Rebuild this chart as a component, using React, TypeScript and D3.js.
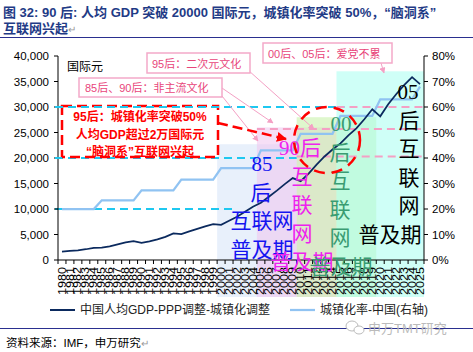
import * as d3 from "d3";

const years = [
  1980, 1981, 1982, 1983, 1984, 1985, 1986, 1987, 1988, 1989,
  1990, 1991, 1992, 1993, 1994, 1995, 1996, 1997, 1998, 1999,
  2000, 2001, 2002, 2003, 2004, 2005, 2006, 2007, 2008, 2009,
  2010, 2011, 2012, 2013, 2014, 2015, 2016, 2017, 2018, 2019,
  2020, 2021, 2022, 2023, 2024, 2025,
];
// 中国人均GDP-PPP调整-城镇化调整 (left axis)
const gdp = [
  1640, 1770, 1910, 2110, 2360, 2420, 2660, 3050, 3450, 3680,
  3350, 3640, 4040, 4530, 5220, 5080, 5600, 6100, 6600, 7050,
  6900, 7680, 8470, 9460, 10440, 11230, 12410, 13600, 14870, 16060,
  15460, 16940, 18700, 20300, 21670, 22850, 24430, 25800, 27600, 29550,
  28170, 30540, 32500, 34280, 35850, 34500,
];
// 城镇化率-中国 (right axis)
const urban = [
  0.2, 0.2, 0.2, 0.2, 0.2, 0.234, 0.234, 0.234, 0.234, 0.234,
  0.273, 0.273, 0.273, 0.273, 0.273, 0.315, 0.315, 0.315, 0.315, 0.315,
  0.36, 0.36, 0.36, 0.36, 0.36, 0.43, 0.43, 0.43, 0.43, 0.43,
  0.495, 0.495, 0.495, 0.495, 0.495, 0.565, 0.565, 0.565, 0.565, 0.565,
  0.63, 0.63, 0.63, 0.63, 0.63, 0.68,
];
const leftTicks = [0, 5000, 10000, 15000, 20000, 25000, 30000, 35000, 40000];
const rightTicks = [0, 0.1, 0.2, 0.3, 0.4, 0.5, 0.6, 0.7, 0.8];

// generation bands
const bandStart = [2000, 2005, 2010, 2015];
const bandEnd = [2009, 2014, 2019, 2025];
const bandTop = [22700, 26000, 28000, 37000];
const bandFill = ["#d6e4f7", "#eec4ee", "#c4f0a4", "#a8fff0"];

// threshold dashed lines
const cyanLevel = [10000, 20000, 30000];
const cyanEndYear = [2001, 2009, 2015];
const pinkLevel = [20300, 25700, 30000];
const pinkStartYear = [2010, 2005, 2015];

const groups = [
  { lines: ["85", "后", "互联网", "普及期"], xs: [262, 261, 262, 262], y0: 164, color: "#1414f0" },
  { lines: ["90后", "互", "联", "网", "普及期"], xs: [300, 302, 302, 302, 302], y0: 148, color: "#ee22ee" },
  { lines: ["00", "后", "互", "联", "网", "普及期"], xs: [341, 340, 340, 340, 340, 341], y0: 124, color: "#3a9c72" },
  { lines: ["05", "后", "互", "联", "网", "普及期"], xs: [408, 409, 409, 409, 409, 390], y0: 92, color: "#000000" },
];

export default function App() {
  const W = 473;
  const H = 352;
  const x = d3.scaleBand<number>().domain(years).range([58, 424]);
  const bw = x.bandwidth();
  const cx = (yr: number) => (x(yr) ?? 0) + bw / 2;
  const yL = d3.scaleLinear().domain([0, 40000]).range([260, 56]);
  const yR = d3.scaleLinear().domain([0, 0.8]).range([260, 56]);

  const gdpLine = d3.line<number>().x((_, i) => cx(years[i])).y((d) => yL(d));
  const urbLine = d3.line<number>().x((_, i) => cx(years[i])).y((d) => yR(d));

  const sans = "Arial, 'Liberation Sans', 'Noto Sans CJK SC', sans-serif";
  const serif = "'Liberation Serif', 'Noto Sans CJK SC', serif";
  const boxText = "#e8457a";
  const pinkBorder = "#f4a9c9";

  return (
    <svg width={W} height={H} style={{ position: "absolute", left: 0, top: 0, background: "#fff" }}>
      {/* title */}
      <text x={3} y={17} fontFamily={sans} fontWeight="bold" fontSize={13} fill="#1f3b86">
        图 32: 90 后: 人均 GDP 突破 20000 国际元，城镇化率突破 50%，“脑洞系”
      </text>
      <text x={3} y={33} fontFamily={sans} fontWeight="bold" fontSize={13} fill="#1f3b86">
        互联网兴起<tspan fill="#999" fontWeight="normal" fontSize={10}>↵</tspan>
      </text>
      <line x1={0} x2={W} y1={37.5} y2={37.5} stroke="#2a2f8f" strokeWidth={1.2} />

      {/* bands */}
      {bandStart.map((s, i) => (
        <rect key={"b" + i} x={x(s)} y={yL(bandTop[i])} width={(x(bandEnd[i]) ?? 0) + bw - (x(s) ?? 0)}
          height={297 - yL(bandTop[i])} fill={bandFill[i]} opacity={0.55} />
      ))}

      {/* threshold lines */}
      {cyanLevel.map((v, i) => (
        <line key={"c" + i} x1={55} x2={(x(cyanEndYear[i]) ?? 0) + bw} y1={yL(v)} y2={yL(v)}
          stroke="#1ec8f0" strokeWidth={2} strokeDasharray="8 5" />
      ))}
      {pinkLevel.map((v, i) => (
        <line key={"p" + i} x1={x(pinkStartYear[i])} x2={426} y1={yL(v)} y2={yL(v)}
          stroke="#f4a0c4" strokeWidth={2} strokeDasharray="8 5" />
      ))}

      {/* axes */}
      <line x1={58} x2={58} y1={56} y2={260} stroke="#000" />
      <line x1={424} x2={424} y1={56} y2={260} stroke="#000" />
      <line x1={58} x2={424} y1={260} y2={260} stroke="#000" />
      {leftTicks.map((t) => (
        <g key={"l" + t}>
          <line x1={54} x2={58} y1={yL(t)} y2={yL(t)} stroke="#000" />
          <text x={49} y={yL(t) + 4} textAnchor="end" fontFamily={sans} fontSize={11.5} fill="#000">
            {d3.format(",")(t)}
          </text>
        </g>
      ))}
      {rightTicks.map((t) => (
        <g key={"r" + t}>
          <line x1={424} x2={428} y1={yR(t)} y2={yR(t)} stroke="#000" />
          <text x={432} y={yR(t) + 4} fontFamily={sans} fontSize={11.5} fill="#000">
            {d3.format(".0%")(t)}
          </text>
        </g>
      ))}
      {years.map((yr) => (
        <g key={"x" + yr}>
          <line x1={x(yr)} x2={x(yr)} y1={260} y2={264} stroke="#000" />
          <text transform={`translate(${cx(yr) + 3.6},267) rotate(-90)`} textAnchor="end"
            fontFamily={sans} fontSize={10} textLength={28} lengthAdjust="spacingAndGlyphs" fill="#000">
            {yr}
          </text>
        </g>
      ))}
      <line x1={424} x2={424} y1={260} y2={264} stroke="#000" />
      <text x={67} y={71} fontFamily={sans} fontSize={12} fill="#000">国际元</text>

      {/* series */}
      <path d={urbLine(urban) ?? ""} fill="none" stroke="#90c3f2" strokeWidth={2.25} />
      <path d={gdpLine(gdp) ?? ""} fill="none" stroke="#0b2a5e" strokeWidth={1.75} />

      {/* generation labels */}
      {groups.map((g, gi) =>
        g.lines.map((l, li) => (
          <text key={gi + "-" + li} x={g.xs[li]} y={g.y0 + li * 28.6 + 7} textAnchor="middle"
            fontFamily={serif} fontSize={21} fill={g.color}>
            {l}
          </text>
        ))
      )}

      {/* pink annotation boxes */}
      <defs>
        <marker id="pa" viewBox="0 0 10 10" refX="9" refY="5" markerWidth="6" markerHeight="6" orient="auto">
          <path d="M0,0L10,5L0,10z" fill="#f4a0c4" />
        </marker>
        <marker id="ra" viewBox="0 0 10 10" refX="9" refY="5" markerWidth="4" markerHeight="4" orient="auto">
          <path d="M0,0L10,5L0,10z" fill="#ff0000" />
        </marker>
      </defs>
      <line x1={248} y1={70} x2={314} y2={129} stroke="#f4a0c4" strokeWidth={1} markerEnd="url(#pa)" />
      <line x1={222} y1={88} x2={273} y2={123} stroke="#f4a0c4" strokeWidth={1} markerEnd="url(#pa)" />
      <line x1={222} y1={96} x2={258} y2={141} stroke="#f4a0c4" strokeWidth={1} markerEnd="url(#pa)" />
      <line x1={381} y1={63} x2={384} y2={73} stroke="#f4a0c4" strokeWidth={1} markerEnd="url(#pa)" />
      <rect x={147} y={53} width={103} height={20} fill="#fff" stroke={pinkBorder} strokeWidth={1.5} />
      <text x={152} y={67.5} fontFamily={sans} fontSize={11} fill={boxText}>95后：二次元文化</text>
      <rect x={79} y={78} width={143} height={19} fill="#fff" stroke={pinkBorder} strokeWidth={1.5} />
      <text x={85} y={92} fontFamily={sans} fontSize={11} fill={boxText}>85后、90后：非主流文化</text>
      <rect x={263} y={43} width={129} height={20} fill="#fff" stroke={pinkBorder} strokeWidth={1.5} />
      <text x={268} y={57.5} fontFamily={sans} fontSize={11} fill={boxText}>00后、05后：爱党不累</text>

      {/* red dashed box + circle */}
      <rect x={62} y={106} width={156} height={51} fill="#fff" stroke="#ff0000" strokeWidth={2.5} strokeDasharray="10 5" />
      <line x1={55} x2={222} y1={yL(30000)} y2={yL(30000)} stroke="#1ec8f0" strokeWidth={2} strokeDasharray="8 5" />
      <line x1={55} x2={62} y1={yL(20000)} y2={yL(20000)} stroke="#1ec8f0" strokeWidth={2} strokeDasharray="8 5" />
      <text x={140} y={121} textAnchor="middle" fontFamily={sans} fontWeight="bold" fontSize={12} fill="#ff0000">95后：城镇化率突破50%</text>
      <text x={140} y={138.5} textAnchor="middle" fontFamily={sans} fontWeight="bold" fontSize={12} fill="#ff0000">人均GDP超过2万国际元</text>
      <text x={140} y={156} textAnchor="middle" fontFamily={sans} fontWeight="bold" fontSize={12} fill="#ff0000">“脑洞系”互联网兴起</text>
      <line x1={218} y1={123} x2={286} y2={139} stroke="#ff0000" strokeWidth={2.5} strokeDasharray="10 5" markerEnd="url(#ra)" />
      <circle cx={327} cy={140} r={33} fill="none" stroke="#ff0000" strokeWidth={2.5} strokeDasharray="11 7" />

      {/* legend */}
      <line x1={50} x2={75} y1={310} y2={310} stroke="#0b2a5e" strokeWidth={2} />
      <text x={80} y={314} fontFamily={sans} fontSize={12} fill="#222">中国人均GDP-PPP调整-城镇化调整</text>
      <line x1={290} x2={315} y1={310} y2={310} stroke="#90c3f2" strokeWidth={2.25} />
      <text x={320} y={314} fontFamily={sans} fontSize={12} fill="#222">城镇化率-中国(右轴)</text>

      {/* footer */}
      <line x1={0} x2={W} y1={328.5} y2={328.5} stroke="#2a2f8f" strokeWidth={1.2} />
      <ellipse cx={352} cy={326} rx={6} ry={5} fill="#fff" stroke="#bbb" />
      <ellipse cx={359} cy={330} rx={5} ry={4} fill="#fff" stroke="#bbb" />
      <text x={368} y={333} fontFamily={sans} fontSize={13} fill="#bbb">申万TMT研究</text>
      <text x={6} y={347} fontFamily={sans} fontSize={11.5} fill="#000">
        资料来源：IMF，申万研究<tspan fill="#999" fontSize={10}>↵</tspan>
      </text>
    </svg>
  );
}
